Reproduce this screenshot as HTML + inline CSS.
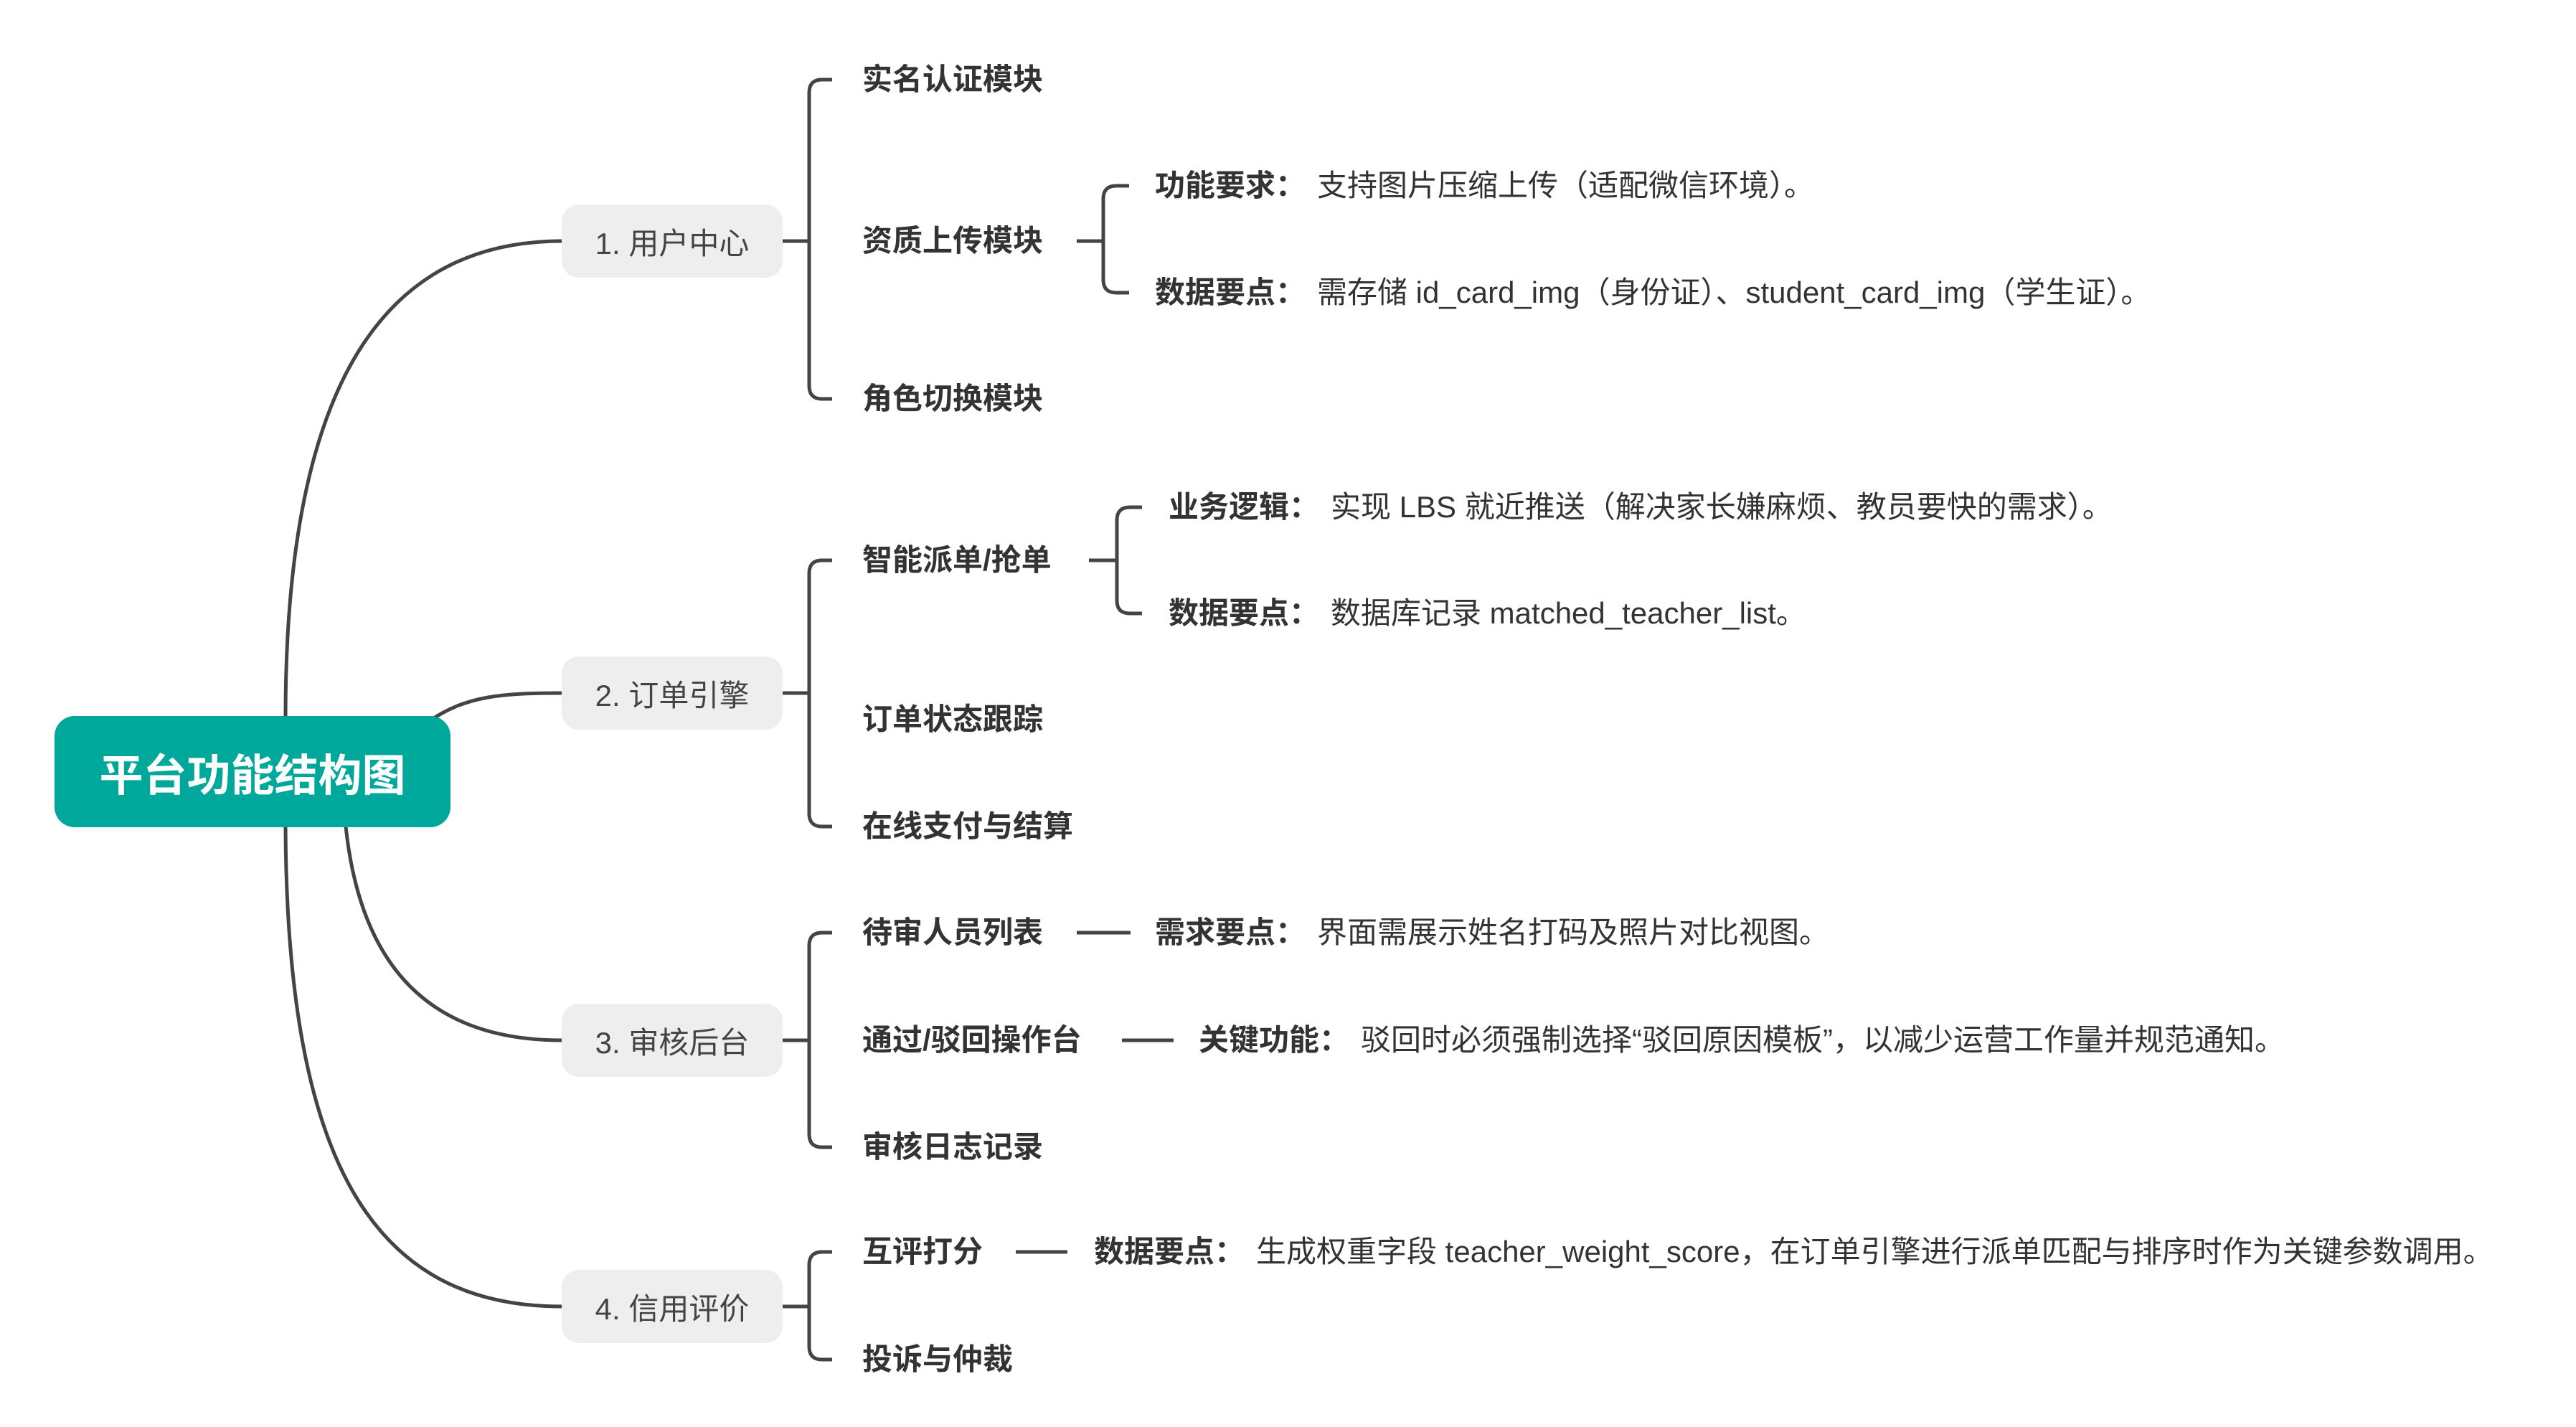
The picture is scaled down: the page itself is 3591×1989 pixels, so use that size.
<!DOCTYPE html>
<html><head><meta charset="utf-8"><style>
html,body{margin:0;padding:0;background:#fff;}
body{width:3591px;height:1989px;position:relative;overflow:hidden;font-family:"Liberation Sans","Noto Sans CJK SC",sans-serif;color:#333;}
.t{position:absolute;transform:translateY(-50%);white-space:nowrap;font-size:42px;line-height:1;}
.c{font-weight:bold;}
.g b{font-weight:bold;margin-right:16px;}
.box{position:absolute;background:#eeeeee;border-radius:24px;width:308px;height:102px;left:783px;display:flex;align-items:center;justify-content:center;font-size:42px;color:#444;}
.root{position:absolute;left:76px;top:998px;width:552px;height:155px;background:#00a79b;border-radius:28px;color:#fff;font-weight:bold;font-size:61px;display:flex;align-items:center;justify-content:center;}
svg{position:absolute;left:0;top:0;}
</style></head><body>
<svg width="3591" height="1989" fill="none" stroke="#444" stroke-width="5">
<path d="M398 1000 C 398 560, 520 336, 783 336"/>
<path d="M600 1004 C 650 970, 700 966, 783 966"/>
<path d="M482 1152 C 505 1370, 620 1450, 783 1450"/>
<path d="M398 1152 C 400 1620, 520 1821, 783 1821"/>
<path d="M1091 336 H1128"/>
<path d="M1160 111 H1146 Q1128 111 1128 129 V538 Q1128 556 1146 556 H1160"/>
<path d="M1091 966 H1128"/>
<path d="M1160 781 H1146 Q1128 781 1128 799 V1134 Q1128 1152 1146 1152 H1160"/>
<path d="M1091 1450 H1128"/>
<path d="M1160 1300 H1146 Q1128 1300 1128 1318 V1581 Q1128 1599 1146 1599 H1160"/>
<path d="M1091 1821 H1128"/>
<path d="M1160 1745 H1146 Q1128 1745 1128 1763 V1877 Q1128 1895 1146 1895 H1160"/>
<path d="M1501 336 H1538"/>
<path d="M1574 259 H1556 Q1538 259 1538 277 V390 Q1538 408 1556 408 H1574"/>
<path d="M1518 781 H1557"/>
<path d="M1592 707 H1575 Q1557 707 1557 725 V837 Q1557 855 1575 855 H1592"/>
<path d="M1501 1300 H1576"/>
<path d="M1564 1450 H1636"/>
<path d="M1416 1745 H1488"/>
</svg>
<div class="root">平台功能结构图</div>
<div class="box" style="top:285px">1. 用户中心</div>
<div class="box" style="top:915px">2. 订单引擎</div>
<div class="box" style="top:1399px">3. 审核后台</div>
<div class="box" style="top:1770px">4. 信用评价</div>

<div class="t c" style="left:1202px;top:111px">实名认证模块</div>
<div class="t c" style="left:1202px;top:336px">资质上传模块</div>
<div class="t c" style="left:1202px;top:556px">角色切换模块</div>
<div class="t c" style="left:1202px;top:781px">智能派单/抢单</div>
<div class="t c" style="left:1202px;top:1003px">订单状态跟踪</div>
<div class="t c" style="left:1202px;top:1152px">在线支付与结算</div>
<div class="t c" style="left:1202px;top:1300px">待审人员列表</div>
<div class="t c" style="left:1202px;top:1450px">通过/驳回操作台</div>
<div class="t c" style="left:1202px;top:1599px">审核日志记录</div>
<div class="t c" style="left:1202px;top:1745px">互评打分</div>
<div class="t c" style="left:1202px;top:1895px">投诉与仲裁</div>

<div class="t g" style="left:1610px;top:259px"><b>功能要求：</b>支持图片压缩上传（适配微信环境）。</div>
<div class="t g" style="left:1610px;top:408px"><b>数据要点：</b>需存储 id_card_img（身份证）、student_card_img（学生证）。</div>
<div class="t g" style="left:1629px;top:707px"><b>业务逻辑：</b>实现 LBS 就近推送（解决家长嫌麻烦、教员要快的需求）。</div>
<div class="t g" style="left:1629px;top:855px"><b>数据要点：</b>数据库记录 matched_teacher_list。</div>
<div class="t g" style="left:1610px;top:1300px"><b>需求要点：</b>界面需展示姓名打码及照片对比视图。</div>
<div class="t g" style="left:1671px;top:1450px"><b>关键功能：</b>驳回时必须强制选择“驳回原因模板”，以减少运营工作量并规范通知。</div>
<div class="t g" style="left:1525px;top:1745px"><b>数据要点：</b>生成权重字段 teacher_weight_score，在订单引擎进行派单匹配与排序时作为关键参数调用。</div>
</body></html>
